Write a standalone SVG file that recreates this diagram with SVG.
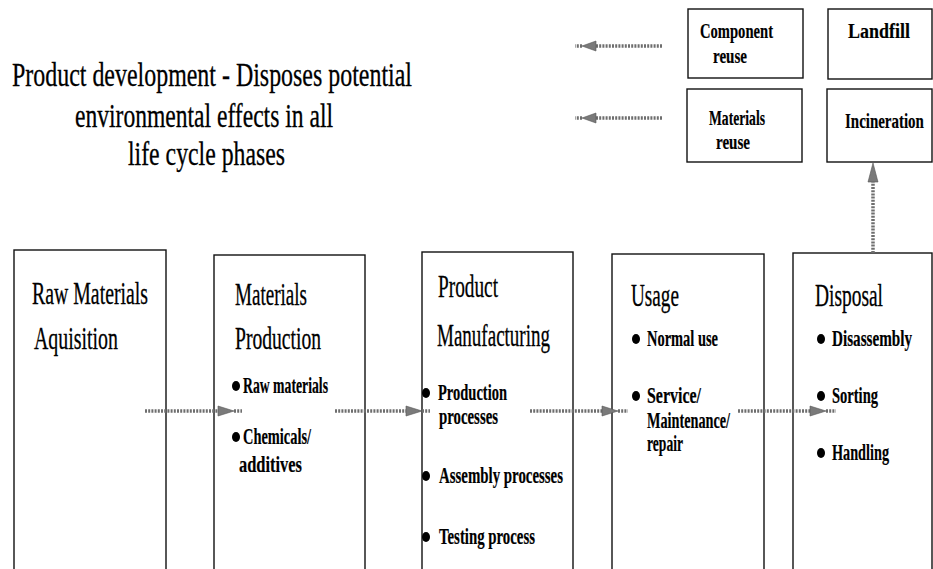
<svg xmlns="http://www.w3.org/2000/svg" width="933" height="569" viewBox="0 0 933 569">
<defs>
<style>
.box{fill:none;stroke:#111;stroke-width:1.4}
.t{font-family:"Liberation Serif","Times New Roman",serif;fill:#000}
.ttl{font-size:34px;stroke:#000;stroke-width:0.3}
.hd{font-size:31px;stroke:#000;stroke-width:0.3}
.bl{font-size:23px;font-weight:bold;stroke:#000;stroke-width:0.2}
.sm{font-size:22px;font-weight:bold;stroke:#000;stroke-width:0.2}
.dot{fill:#000}
.shaft{stroke:#6e6e6e;stroke-width:3.5;stroke-dasharray:2 1.2;fill:none}
.head{fill:#7a7a7a;stroke:#555;stroke-width:0.6}
</style>
</defs>
<rect width="933" height="569" fill="#fff"/>

<g id="title">
<text class="t ttl" x="12" y="86" textLength="400" lengthAdjust="spacingAndGlyphs">Product development  - Disposes potential</text>
<text class="t ttl" x="75" y="127" textLength="258" lengthAdjust="spacingAndGlyphs">environmental effects in all</text>
<text class="t ttl" x="128" y="165" textLength="157" lengthAdjust="spacingAndGlyphs">life cycle phases</text>
</g>

<g id="component-reuse">
<rect class="box" x="688" y="9" width="115" height="69"/>
<text class="t sm" x="700" y="38" textLength="73" lengthAdjust="spacingAndGlyphs">Component</text>
<text class="t sm" x="713" y="63" textLength="34" lengthAdjust="spacingAndGlyphs">reuse</text>
</g>
<g id="landfill">
<rect class="box" x="828" y="9" width="104" height="70"/>
<text class="t sm" x="848" y="38" textLength="62" lengthAdjust="spacingAndGlyphs">Landfill</text>
</g>
<g id="materials-reuse">
<rect class="box" x="687" y="89" width="115" height="73"/>
<text class="t sm" x="709" y="125" textLength="56" lengthAdjust="spacingAndGlyphs">Materials</text>
<text class="t sm" x="716" y="149" textLength="34" lengthAdjust="spacingAndGlyphs">reuse</text>
</g>
<g id="incineration">
<rect class="box" x="827" y="89" width="105" height="73"/>
<text class="t sm" transform="translate(845,128) scale(0.68,1)" x="0" y="0">Incineration</text>
</g>

<g id="raw-materials">
<rect class="box" x="14" y="250" width="152" height="330"/>
<text class="t hd" x="32" y="304" textLength="116" lengthAdjust="spacingAndGlyphs">Raw Materials</text>
<text class="t hd" x="34" y="349" textLength="84" lengthAdjust="spacingAndGlyphs">Aquisition</text>
</g>

<g id="materials-production">
<rect class="box" x="214" y="255" width="151" height="325"/>
<text class="t hd" x="235" y="305" textLength="72" lengthAdjust="spacingAndGlyphs">Materials</text>
<text class="t hd" x="235" y="349" textLength="86" lengthAdjust="spacingAndGlyphs">Production</text>
<ellipse class="dot" cx="236" cy="386" rx="4" ry="5"/>
<text class="t bl" x="243" y="393" textLength="85" lengthAdjust="spacingAndGlyphs">Raw materials</text>
<ellipse class="dot" cx="236" cy="437" rx="4" ry="5"/>
<text class="t bl" x="243" y="444" textLength="68" lengthAdjust="spacingAndGlyphs">Chemicals/</text>
<text class="t bl" x="239" y="472" textLength="63" lengthAdjust="spacingAndGlyphs">additives</text>
</g>

<g id="product-manufacturing">
<rect class="box" x="422" y="252" width="151" height="328"/>
<text class="t hd" x="438" y="297" textLength="60" lengthAdjust="spacingAndGlyphs">Product</text>
<text class="t hd" x="437" y="346" textLength="113" lengthAdjust="spacingAndGlyphs">Manufacturing</text>
<ellipse class="dot" cx="426" cy="393" rx="4" ry="5"/>
<text class="t bl" x="438" y="400" textLength="69" lengthAdjust="spacingAndGlyphs">Production</text>
<text class="t bl" x="439" y="424" textLength="59" lengthAdjust="spacingAndGlyphs">processes</text>
<ellipse class="dot" cx="426" cy="476" rx="4" ry="5"/>
<text class="t bl" x="439" y="483" textLength="124" lengthAdjust="spacingAndGlyphs">Assembly processes</text>
<ellipse class="dot" cx="426" cy="537" rx="4" ry="5"/>
<text class="t bl" x="439" y="544" textLength="96" lengthAdjust="spacingAndGlyphs">Testing process</text>
</g>

<g id="usage">
<rect class="box" x="612" y="254" width="152" height="326"/>
<text class="t hd" x="631" y="306" textLength="48" lengthAdjust="spacingAndGlyphs">Usage</text>
<ellipse class="dot" cx="636" cy="339" rx="4" ry="5"/>
<text class="t bl" x="647" y="346" textLength="71" lengthAdjust="spacingAndGlyphs">Normal use</text>
<ellipse class="dot" cx="636" cy="396" rx="4" ry="5"/>
<text class="t bl" x="647" y="403" textLength="54" lengthAdjust="spacingAndGlyphs">Service/</text>
<text class="t bl" x="647" y="428" textLength="83" lengthAdjust="spacingAndGlyphs">Maintenance/</text>
<text class="t bl" x="647" y="451" textLength="36" lengthAdjust="spacingAndGlyphs">repair</text>
</g>

<g id="disposal">
<rect class="box" x="793" y="253" width="139" height="327"/>
<text class="t hd" x="815" y="306" textLength="68" lengthAdjust="spacingAndGlyphs">Disposal</text>
<ellipse class="dot" cx="821" cy="339" rx="4" ry="5"/>
<text class="t bl" transform="translate(832,346) scale(0.66,1)" x="0" y="0">Disassembly</text>
<ellipse class="dot" cx="821" cy="396" rx="4" ry="5"/>
<text class="t bl" x="832" y="403" textLength="46" lengthAdjust="spacingAndGlyphs">Sorting</text>
<ellipse class="dot" cx="821" cy="453" rx="4" ry="5"/>
<text class="t bl" x="832" y="460" textLength="57" lengthAdjust="spacingAndGlyphs">Handling</text>
</g>

<g id="connectors">
<line class="shaft" x1="145" y1="411" x2="222" y2="411"/>
<polygon class="head" points="218,406 234,411 218,416"/>
<line class="shaft" x1="234" y1="411" x2="242" y2="411" stroke-width="1.2"/>

<line class="shaft" x1="335" y1="411" x2="410" y2="411"/>
<polygon class="head" points="406,406 422,411 406,416"/>
<line class="shaft" x1="422" y1="411" x2="430" y2="411" stroke-width="1.2"/>

<line class="shaft" x1="530" y1="411" x2="606" y2="411"/>
<polygon class="head" points="602,406 618,411 602,416"/>
<line class="shaft" x1="618" y1="411" x2="628" y2="411" stroke-width="1.2"/>

<line class="shaft" x1="738" y1="411" x2="814" y2="411"/>
<polygon class="head" points="810,406 826,411 810,416"/>
<line class="shaft" x1="826" y1="411" x2="836" y2="411" stroke-width="1.2"/>

<line class="shaft" x1="662" y1="46" x2="592" y2="46"/>
<polygon class="head" points="596,41 582,46 596,51"/>
<line class="shaft" x1="582" y1="46" x2="575" y2="46" stroke-width="1.2"/>

<line class="shaft" x1="662" y1="118" x2="592" y2="118"/>
<polygon class="head" points="596,113 582,118 596,123"/>
<line class="shaft" x1="582" y1="118" x2="575" y2="118" stroke-width="1.2"/>

<line class="shaft" x1="873" y1="253" x2="873" y2="178"/>
<polygon class="head" points="868,182 873,163 878,182"/>
</g>
</svg>
